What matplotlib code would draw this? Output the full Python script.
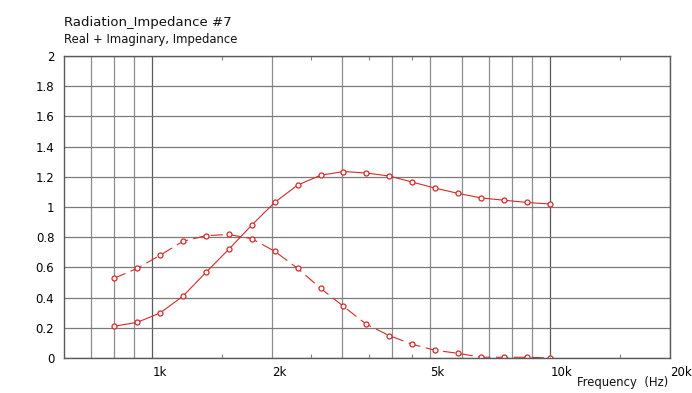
import matplotlib.pyplot as plt
from matplotlib.ticker import NullFormatter

# frequencies (Hz) of the plotted points
freq = [802, 916, 1046, 1194, 1364, 1557, 1778, 2030, 2318, 2647,
        3023, 3452, 3942, 4501, 5140, 5869, 6702, 7653, 8739, 9979]

# real part of the radiation impedance
real_part = [0.21, 0.236, 0.298, 0.409, 0.567, 0.72, 0.88, 1.03, 1.145, 1.21,
             1.235, 1.225, 1.205, 1.165, 1.125, 1.09, 1.06, 1.045, 1.03, 1.02]

# imaginary part
imag_part = [0.528, 0.594, 0.68, 0.773, 0.81, 0.818, 0.79, 0.707, 0.594, 0.462,
             0.342, 0.223, 0.148, 0.091, 0.051, 0.031, 0.005, 0.005, 0.005, 0.0]

grid_freqs = [700, 800, 900, 1000, 2000, 3000, 4000, 5000, 6000, 7000, 8000, 9000, 10000, 20000]
label_freqs = {1000: "1k", 2000: "2k", 5000: "5k", 10000: "10k", 20000: "20k"}
minor_freqs = [1500, 2500, 3500, 4500, 15000]
y_ticks = [0, 0.2, 0.4, 0.6, 0.8, 1, 1.2, 1.4, 1.6, 1.8, 2]

red = "#d42a2a"

fig = plt.figure(figsize=(6.92, 3.93), dpi=100)
ax = fig.add_axes([64 / 692, 35 / 393, 606 / 692, 302 / 393])

ax.plot(freq, real_part, color=red, lw=0.8, marker="o", ms=3.6,
        mfc="white", mec=red, mew=0.9)
ax.plot(freq, imag_part, color=red, lw=0.8, dashes=(11, 5), marker="o", ms=3.6,
        mfc="white", mec=red, mew=0.9)

ax.set_xscale("log")
ax.set_xlim(600, 20000)
ax.set_ylim(0, 2)

ax.set_xticks(grid_freqs)
ax.set_xticklabels([label_freqs.get(f, "") for f in grid_freqs])
ax.set_xticks(minor_freqs, minor=True)
ax.xaxis.set_minor_formatter(NullFormatter())
for lab in ax.get_xticklabels():
    lab.set_horizontalalignment("left")
ax.tick_params(axis="x", which="major", length=0, pad=6, labelsize=8.5)
ax.tick_params(axis="x", which="minor", direction="in", length=3, top=True,
               color="#808080", width=0.8)

ax.set_yticks(y_ticks)
ax.set_yticklabels([f"{v:g}" for v in y_ticks])
ax.tick_params(axis="y", length=0, pad=7, labelsize=8.5)

ax.grid(True, which="major", color="#8c8c8c", lw=0.9)
for gl in ax.get_ygridlines():
    gl.set_color("#7a7a7a")
for f, gl in zip(grid_freqs, ax.get_xgridlines()):
    if f in (1000, 10000):
        gl.set_color("#5a5a5a")
ax.set_axisbelow(True)

for s in ax.spines.values():
    s.set_color("#5a5a5a")
    s.set_linewidth(1)

fig.text(64 / 692, 1 - 26 / 393, "Radiation_Impedance #7", fontsize=9.5, color="#111111")
fig.text(64 / 692, 1 - 43 / 393, "Real + Imaginary, Impedance", fontsize=8.4, color="#111111")
fig.text(668 / 692, 1 - 386 / 393, "Frequency  (Hz)", fontsize=8.4, ha="right", color="#111111")

fig.savefig("out.png", dpi=100)
